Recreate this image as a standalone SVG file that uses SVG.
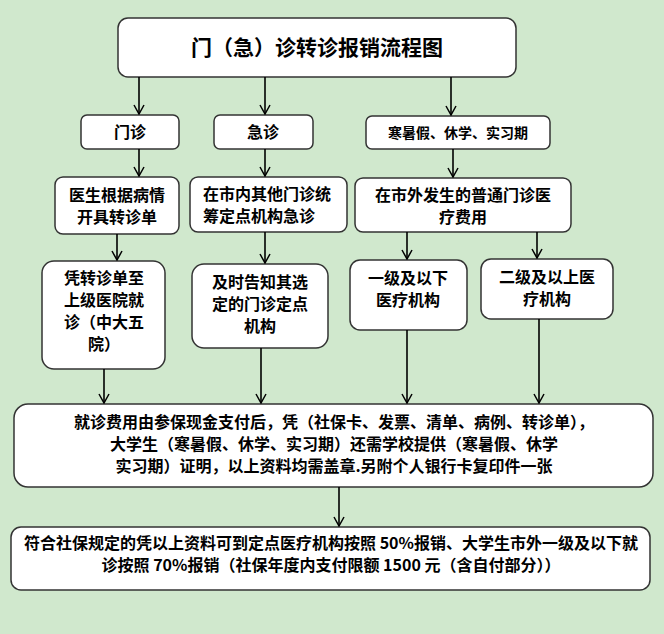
<svg xmlns="http://www.w3.org/2000/svg" width="664" height="634" viewBox="0 0 664 634">
<defs>
<marker id="ah" markerWidth="12" markerHeight="12" refX="11" refY="6" orient="auto" markerUnits="userSpaceOnUse" viewBox="0 0 12 12">
<path d="M2,1 L11,6 L2,11" fill="none" stroke="#000" stroke-width="1.5"/>
</marker>
</defs>
<style>
.b{fill:#fff;stroke:#333;stroke-width:1.5}
.t{font-family:"Noto Sans CJK SC","Liberation Sans",sans-serif;font-weight:bold;font-size:16px;fill:#000;text-anchor:middle}
.c{stroke:#000;stroke-width:1.6;fill:none;marker-end:url(#ah)}
</style>
<rect width="664" height="634" fill="#d0e8cd"/>
<g id="title"><rect class="b" x="118" y="18" width="398" height="59" rx="10"/><text class="t" x="317" y="55" style="font-size:21px">门（急）诊转诊报销流程图</text></g>
<g id="n1"><rect class="b" x="81" y="115" width="98" height="34" rx="6"/><text class="t" x="130" y="138">门诊</text></g>
<g id="n2"><rect class="b" x="214" y="115" width="99" height="34" rx="6"/><text class="t" x="263" y="138">急诊</text></g>
<g id="n3"><rect class="b" x="366" y="116" width="184" height="33" rx="6"/><text class="t" x="458" y="138" style="font-size:14px">寒暑假、休学、实习期</text></g>
<g id="n4"><rect class="b" x="55" y="177" width="124" height="57" rx="8"/><text class="t" x="117" y="201">医生根据病情</text><text class="t" x="117" y="223">开具转诊单</text></g>
<g id="n5"><rect class="b" x="190" y="177" width="157" height="55" rx="8"/><text class="t" x="203" y="200" style="text-anchor:start">在市内其他门诊统</text><text class="t" x="203" y="222" style="text-anchor:start">筹定点机构急诊</text></g>
<g id="n6"><rect class="b" x="355" y="178" width="216" height="54" rx="8"/><text class="t" x="463" y="201">在市外发生的普通门诊医</text><text class="t" x="463" y="223">疗费用</text></g>
<g id="n7"><rect class="b" x="42" y="261" width="123" height="108" rx="12"/><text class="t" x="104" y="284">凭转诊单至</text><text class="t" x="104" y="306">上级医院就</text><text class="t" x="104" y="328">诊（中大五</text><text class="t" x="104" y="350">院）</text></g>
<g id="n8"><rect class="b" x="192" y="264" width="136" height="84" rx="12"/><text class="t" x="260" y="288">及时告知其选</text><text class="t" x="260" y="310">定的门诊定点</text><text class="t" x="260" y="332">机构</text></g>
<g id="n9"><rect class="b" x="350" y="260" width="117" height="70" rx="10"/><text class="t" x="408" y="284">一级及以下</text><text class="t" x="408" y="306">医疗机构</text></g>
<g id="n10"><rect class="b" x="481" y="259" width="132" height="60" rx="10"/><text class="t" x="547" y="283">二级及以上医</text><text class="t" x="547" y="305">疗机构</text></g>
<g id="n11"><rect class="b" x="14" y="404" width="639" height="83" rx="14"/><text class="t" x="334" y="428">就诊费用由参保现金支付后，凭（社保卡、发票、清单、病例、转诊单），</text><text class="t" x="334" y="450">大学生（寒暑假、休学、实习期）还需学校提供（寒暑假、休学</text><text class="t" x="334" y="472">实习期）证明，以上资料均需盖章.另附个人银行卡复印件一张</text></g>
<g id="n12"><rect class="b" x="11" y="527" width="639" height="63" rx="10"/><text class="t" x="331" y="549">符合社保规定的凭以上资料可到定点医疗机构按照 50%报销、大学生市外一级及以下就</text><text class="t" x="331" y="571">诊按照 70%报销（社保年度内支付限额 1500 元（含自付部分））</text></g>
<g id="connectors">
<path class="c" d="M139,77 V114"/><path class="c" d="M265,77 V114"/><path class="c" d="M451,77 V115"/>
<path class="c" d="M139,149 V176"/><path class="c" d="M265,149 V176"/><path class="c" d="M453,149 V177"/>
<path class="c" d="M117,234 V260"/><path class="c" d="M265,232 V263"/><path class="c" d="M407,232 V259"/><path class="c" d="M537,232 V258"/>
<path class="c" d="M104,369 V403"/><path class="c" d="M261,348 V403"/><path class="c" d="M407,330 V403"/><path class="c" d="M539,319 V403"/>
<path class="c" d="M339,487 V526"/>
</g>
</svg>
